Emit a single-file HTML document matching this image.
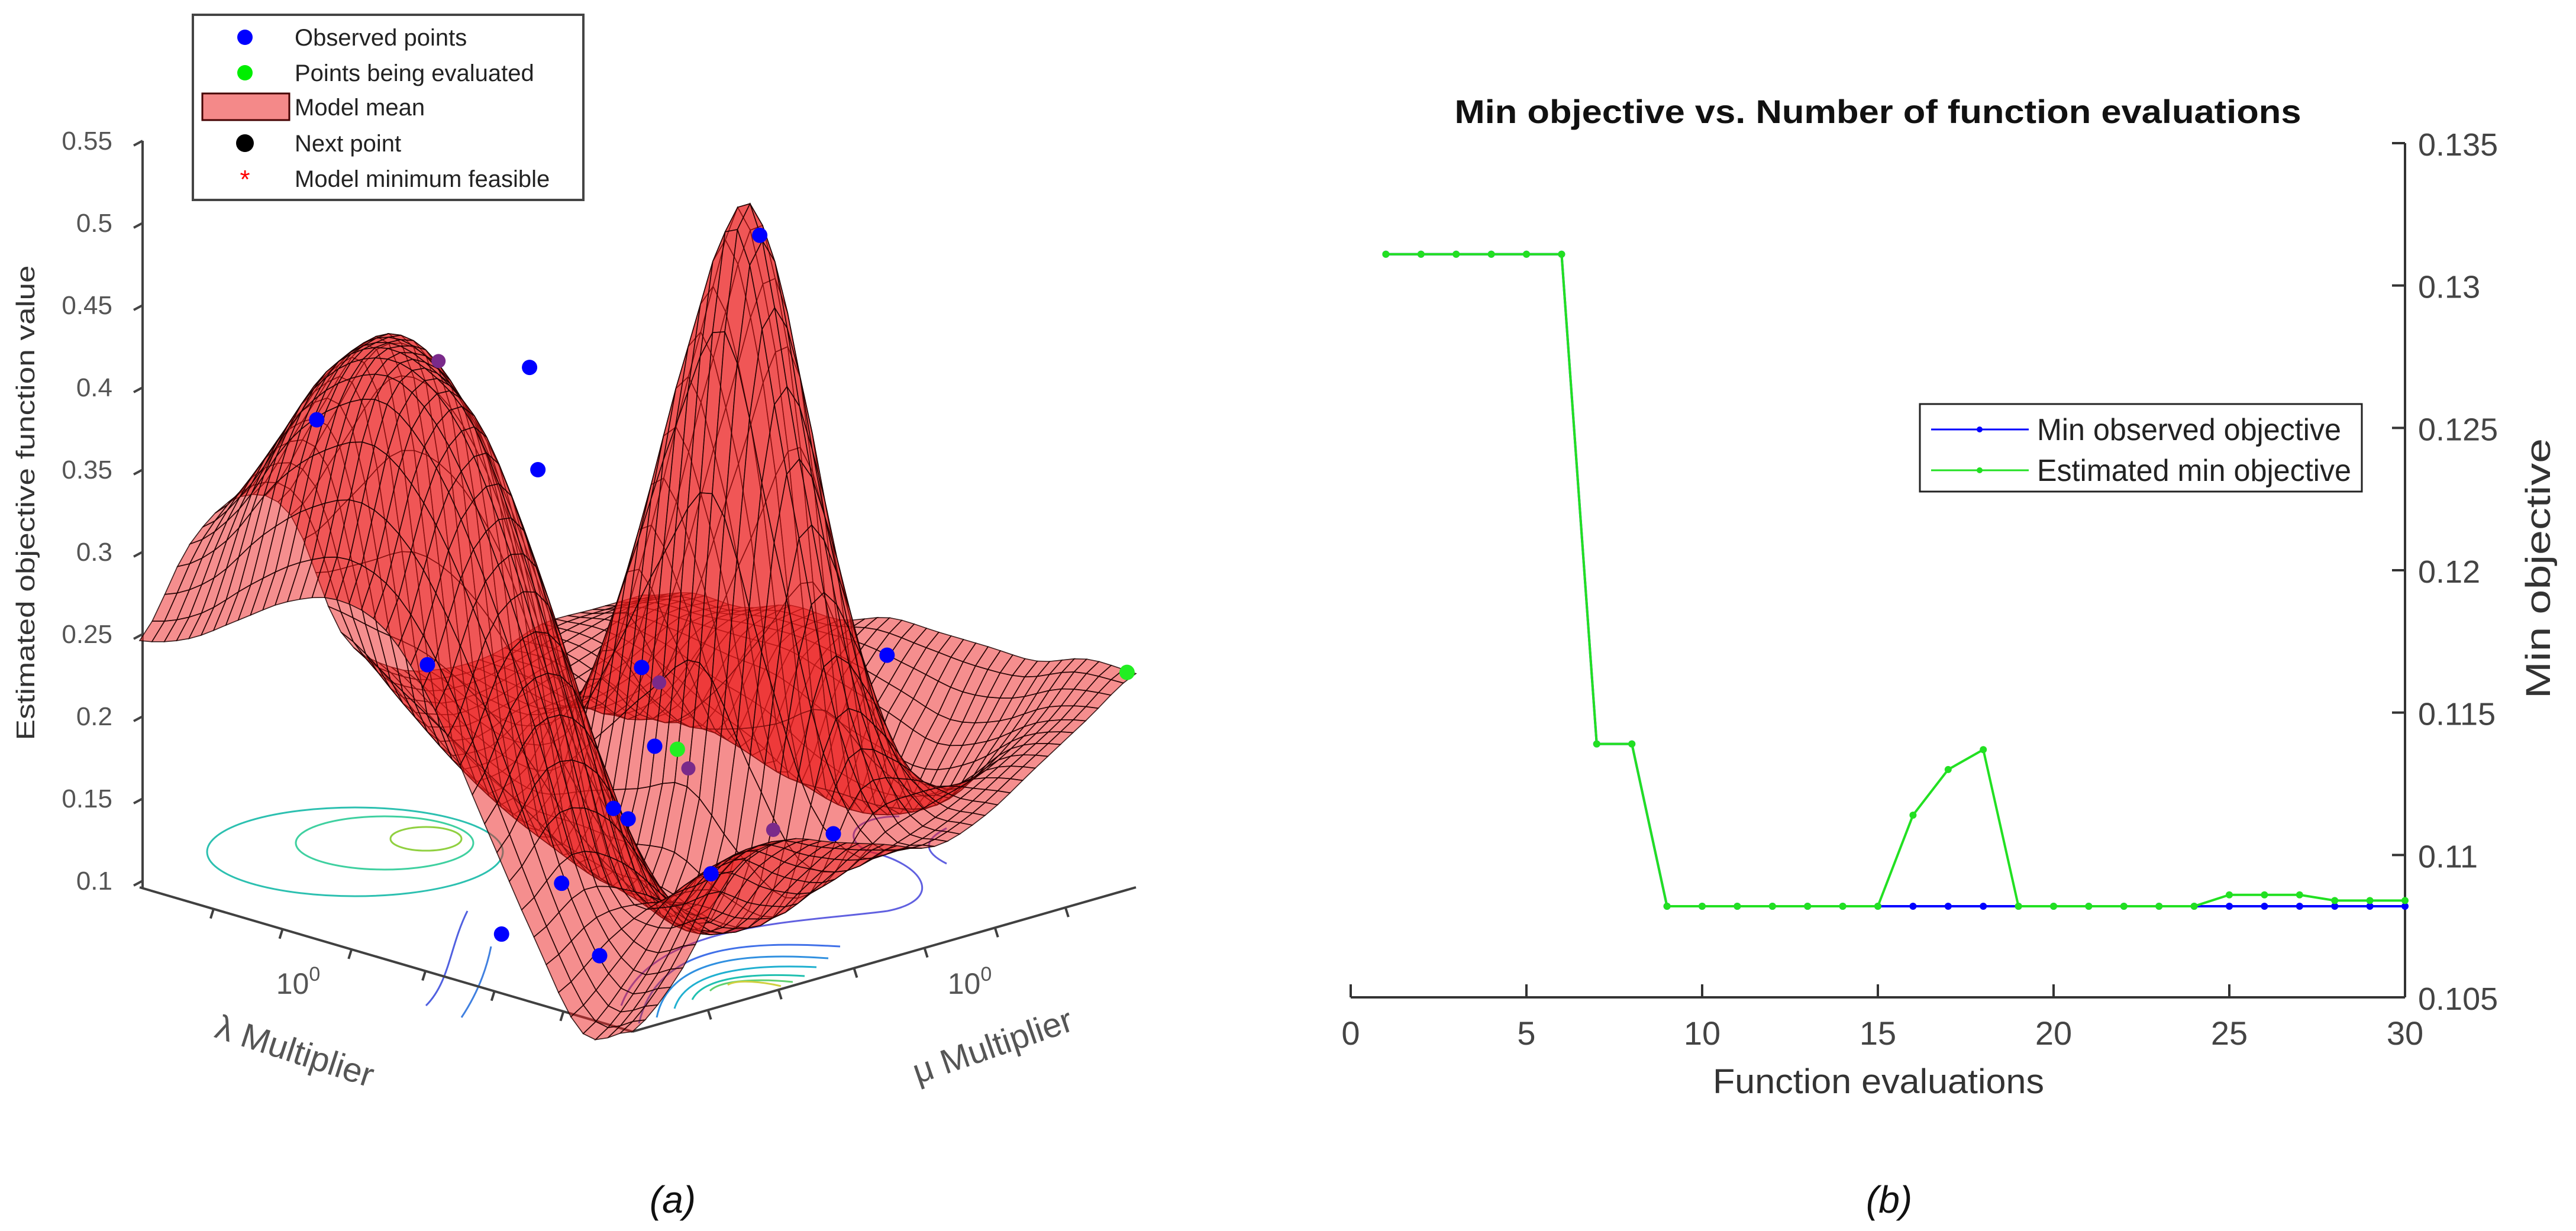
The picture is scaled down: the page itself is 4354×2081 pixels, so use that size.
<!DOCTYPE html>
<html><head><meta charset="utf-8"><style>
html,body{margin:0;padding:0;background:#fff;}
svg{display:block;font-family:"Liberation Sans",sans-serif;}
</style></head><body>
<svg id="fig" width="4354" height="2081" viewBox="0 0 4354 2081" xmlns="http://www.w3.org/2000/svg">
<g id="left">
  <g id="contours" fill="none" stroke-width="3">
    <ellipse cx="600" cy="1440" rx="250" ry="75" stroke="#2cc0b0"/>
    <ellipse cx="650" cy="1425" rx="150" ry="45" stroke="#3fd0a0"/>
    <ellipse cx="720" cy="1418" rx="60" ry="20" stroke="#90d040"/>
    <path d="M790 1540 C760 1600 760 1660 720 1700" stroke="#5060e0"/>
    <path d="M830 1600 C820 1650 800 1690 780 1720" stroke="#4080e0"/>
    <path d="M1050 1700 C1100 1560 1350 1560 1500 1540 C1600 1520 1560 1460 1470 1440 C1420 1420 1440 1380 1520 1380" stroke="#6060e0"/>
    <path d="M1600 1460 C1560 1440 1560 1420 1600 1400" stroke="#6060e0"/>
    <path d="M1080 1730 C1110 1600 1250 1590 1420 1600" stroke="#4070e8"/>
    <path d="M1110 1720 C1130 1620 1260 1610 1400 1620" stroke="#3090e0"/>
    <path d="M1140 1705 C1160 1640 1270 1630 1380 1635" stroke="#20b0d0"/>
    <path d="M1170 1690 C1190 1650 1280 1645 1360 1650" stroke="#20c0b0"/>
    <path d="M1200 1675 C1220 1655 1290 1655 1340 1660" stroke="#60d070"/>
    <path d="M1230 1665 C1245 1655 1290 1660 1320 1667" stroke="#d0d040"/>
  </g>
  <g id="base-axes" stroke="#404040" stroke-width="4">
    <line x1="236" y1="1500" x2="1069" y2="1744"/>
    <line x1="1069" y1="1744" x2="1920" y2="1500"/>
    <line x1="241" y1="238" x2="241" y2="1500"/>
  </g>
  <g id="base-ticks" stroke="#404040" stroke-width="4"></g>
  <g id="zticks"></g>
  <g id="surface"></g>
  <g id="points"></g>
  <text x="504" y="1680" font-size="50" fill="#555" text-anchor="middle">10<tspan dy="-22" font-size="34">0</tspan></text>
  <text x="1639" y="1680" font-size="50" fill="#555" text-anchor="middle">10<tspan dy="-22" font-size="34">0</tspan></text>
  <text transform="translate(497,1781) rotate(18)" font-size="58" fill="#555" text-anchor="middle" dominant-baseline="middle">λ Multiplier</text>
  <text transform="translate(1679,1772) rotate(-19)" font-size="58" fill="#555" text-anchor="middle" dominant-baseline="middle">μ Multiplier</text>
  <text transform="translate(58,850) rotate(-90)" font-size="44" fill="#333" text-anchor="middle" textLength="803" lengthAdjust="spacingAndGlyphs">Estimated objective function value</text>
  <g id="legend-left">
    <rect x="326" y="25" width="660" height="313" fill="#fff" stroke="#444" stroke-width="4"/>
    <circle cx="414" cy="63" r="13" fill="#0000ff"/>
    <text x="498" y="77" font-size="40" fill="#222">Observed points</text>
    <circle cx="414" cy="123" r="13" fill="#00ee00"/>
    <text x="498" y="137" font-size="40" fill="#222">Points being evaluated</text>
    <rect x="342" y="158" width="147" height="45" fill="#f48989" stroke="#400" stroke-width="3"/>
    <text x="498" y="195" font-size="40" fill="#222">Model mean</text>
    <circle cx="414" cy="242" r="15" fill="#000"/>
    <text x="498" y="256" font-size="40" fill="#222">Next point</text>
    <text x="414" y="318" font-size="44" fill="#ff0000" text-anchor="middle">*</text>
    <text x="498" y="316" font-size="40" fill="#222">Model minimum feasible</text>
  </g>
</g>
<g id="right">
  <text x="3174" y="208" font-size="56" font-weight="bold" fill="#111" text-anchor="middle" textLength="1431" lengthAdjust="spacingAndGlyphs">Min objective vs. Number of function evaluations</text>
  <g id="raxes"></g>
  <g id="rlines"></g>
  <text x="3175" y="1848" font-size="58" fill="#333" text-anchor="middle" textLength="560" lengthAdjust="spacingAndGlyphs">Function evaluations</text>
  <text transform="translate(4310,961) rotate(-90)" font-size="58" fill="#333" text-anchor="middle" textLength="440" lengthAdjust="spacingAndGlyphs">Min objective</text>
  <g id="legend-right">
    <rect x="3245" y="683" width="747" height="148" fill="#fff" stroke="#222" stroke-width="3"/>
    <line x1="3264" y1="726" x2="3429" y2="726" stroke="#0000ff" stroke-width="3"/>
    <circle cx="3346" cy="726" r="5" fill="#0000ff"/>
    <text x="3443" y="744" font-size="52" fill="#222" textLength="514" lengthAdjust="spacingAndGlyphs">Min observed objective</text>
    <line x1="3264" y1="795" x2="3429" y2="795" stroke="#22e022" stroke-width="3"/>
    <circle cx="3346" cy="795" r="5" fill="#22e022"/>
    <text x="3443" y="813" font-size="52" fill="#222" textLength="531" lengthAdjust="spacingAndGlyphs">Estimated min objective</text>
  </g>
</g>
<text x="1137" y="2050" font-size="64" font-style="italic" fill="#111" text-anchor="middle">(a)</text>
<text x="3193" y="2050" font-size="64" font-style="italic" fill="#111" text-anchor="middle">(b)</text>
</svg>
<script>
// ---------- Right chart data ----------
const evals = [1,2,3,4,5,6,7,8,9,10,11,12,13,14,15,16,17,18,19,20,21,22,23,24,25,26,27,28,29,30];
const minObserved = [0.1311,0.1311,0.1311,0.1311,0.1311,0.1311,0.1139,0.1139,0.1082,0.1082,0.1082,0.1082,0.1082,0.1082,0.1082,0.1082,0.1082,0.1082,0.1082,0.1082,0.1082,0.1082,0.1082,0.1082,0.1082,0.1082,0.1082,0.1082,0.1082,0.1082];
const estimatedMin = [0.1311,0.1311,0.1311,0.1311,0.1311,0.1311,0.1139,0.1139,0.1082,0.1082,0.1082,0.1082,0.1082,0.1082,0.1082,0.1114,0.1130,0.1137,0.1082,0.1082,0.1082,0.1082,0.1082,0.1082,0.1086,0.1086,0.1086,0.1084,0.1084,0.1084];
const xTicks = [0,5,10,15,20,25,30];
const yTicks = [0.105,0.11,0.115,0.12,0.125,0.13,0.135];
const yTickLabels = ["0.105","0.11","0.115","0.12","0.125","0.13","0.135"];

// ---------- Left chart data ----------
const zTicks = [0.1,0.15,0.2,0.25,0.3,0.35,0.4,0.45,0.5,0.55];
const zTickLabels = ["0.1","0.15","0.2","0.25","0.3","0.35","0.4","0.45","0.5","0.55"];
// model mean grid: rows = lambda position (0 front .. 1 back), cols = mu position (0 .. 1)
const modelMean = [
 [0.10,0.13,0.18,0.19,0.18,0.17,0.16,0.17,0.19,0.21,0.23],
 [0.09,0.12,0.16,0.17,0.15,0.14,0.16,0.17,0.18,0.20,0.23],
 [0.14,0.16,0.15,0.13,0.11,0.12,0.22,0.20,0.15,0.18,0.22],
 [0.20,0.25,0.24,0.16,0.10,0.14,0.36,0.30,0.14,0.17,0.22],
 [0.26,0.33,0.33,0.21,0.11,0.17,0.50,0.42,0.14,0.18,0.22],
 [0.30,0.39,0.40,0.28,0.12,0.16,0.42,0.34,0.14,0.19,0.22],
 [0.31,0.42,0.43,0.36,0.14,0.15,0.30,0.24,0.15,0.20,0.21],
 [0.30,0.41,0.44,0.40,0.16,0.14,0.20,0.17,0.16,0.20,0.21],
 [0.28,0.38,0.42,0.40,0.18,0.15,0.17,0.17,0.18,0.20,0.20],
 [0.26,0.33,0.37,0.35,0.20,0.17,0.17,0.18,0.19,0.20,0.20],
 [0.25,0.30,0.32,0.30,0.22,0.19,0.18,0.18,0.19,0.19,0.19]];
const obsLam = [0.847,0.644,0.623,0.415,0.742,0.575,0.574,0.628,0.634,0.533,0.473,0.414,0.474,0.376,0.314];
const obsMu  = [0.202,0.426,0.422,0.659,0.319,0.581,0.606,0.577,0.612,0.381,0.203,0.340,0.620,0.767,0.813];
const obsZ   = [0.38,0.41,0.35,0.49,0.23,0.22,0.17,0.13,0.12,0.11,0.10,0.08,0.10,0.12,0.23];
const evalLam = [0.483,0.013];
const evalMu  = [0.562,0.995];
const evalZ   = [0.18,0.23];
const hiddenLam = [0.62,0.52,0.45,0.70];
const hiddenMu  = [0.66,0.62,0.72,0.30];
const hiddenZ   = [0.20,0.16,0.12,0.42];

const NS='http://www.w3.org/2000/svg';
function mk(tag, attrs, parent){const e=document.createElementNS(NS,tag);for(const k in attrs)e.setAttribute(k,attrs[k]);parent.appendChild(e);return e;}

// ---- right chart ----
const X0=2283, X1=4065, Y0=1686, Y1=242;
const xs = v => X0 + (v-0)/(30-0)*(X1-X0);
const ys = v => Y0 - (v-0.105)/(0.135-0.105)*(Y0-Y1);
const raxes=document.getElementById('raxes');
let e;
e=mk('line',{x1:X0,y1:Y0,x2:X1,y2:Y0,stroke:'#333','stroke-width':4},raxes);


e=mk('line',{x1:X1,y1:Y0,x2:X1,y2:Y1,stroke:'#333','stroke-width':4},raxes);


xTicks.forEach(t=>{
  mk('line',{x1:xs(t),y1:Y0,x2:xs(t),y2:Y0-22,stroke:'#333','stroke-width':4},raxes);
  e=mk('text',{x:xs(t),y:1766,'font-size':56,fill:'#444','text-anchor':'middle'},raxes);
  e.textContent=t;
  
  
});
yTicks.forEach((t,i)=>{
  mk('line',{x1:X1,y1:ys(t),x2:X1-22,y2:ys(t),stroke:'#333','stroke-width':4},raxes);
  e=mk('text',{x:4087,y:ys(t)+21,'font-size':54,fill:'#444'},raxes);
  e.textContent=yTickLabels[i];
  
  
});
const rl=document.getElementById('rlines');
function series(vals,color,name){
  const d=vals.map((v,i)=>(i?'L':'M')+xs(evals[i])+' '+ys(v)).join(' ');
  const p=mk('path',{d:d,fill:'none',stroke:color,'stroke-width':4},rl);
  
  
  vals.forEach((v,i)=>{
    const c=mk('circle',{cx:xs(evals[i]),cy:ys(v),r:6,fill:color},rl);
    
    
  });
}
series(minObserved,'#0000ff','min-observed');
series(estimatedMin,'#22e022','estimated-min');

// ---- left chart ----
const Bx=1069,By=1744, PXZ=2780;
function proj(s,t,z){return [Bx-833*s+851*t, By-244*s-244*t-(z-0.1)*PXZ];}
const zs = z => 1489 - (z-0.1)*PXZ;
const zt=document.getElementById('zticks');
zTicks.forEach((t,i)=>{
  mk('line',{x1:241,y1:zs(t),x2:226,y2:zs(t)+8,stroke:'#444','stroke-width':4},zt);
  e=mk('text',{x:190,y:zs(t)+15,'font-size':44,fill:'#555','text-anchor':'end'},zt);
  e.textContent=zTickLabels[i];
  
  
});
const bt=document.getElementById('base-ticks');
[0.15,0.29,0.43,0.58,0.72,0.86].forEach(f=>{
  const x=236+(Bx-236)*f, y=1500+(By-1500)*f;
  mk('line',{x1:x,y1:y,x2:x-5,y2:y+16},bt);
});
[0.15,0.29,0.44,0.58,0.72,0.86].forEach(f=>{
  const x=Bx+(1920-Bx)*f, y=By+(1500-By)*f;
  mk('line',{x1:x,y1:y,x2:x+5,y2:y+16},bt);
});
function cr(p0,p1,p2,p3,u){return 0.5*((2*p1)+(-p0+p2)*u+(2*p0-5*p1+4*p2-p3)*u*u+(-p0+3*p1-3*p2+p3)*u*u*u);}
const N=modelMean.length-1;
function g(i,j){i=Math.max(0,Math.min(N,i));j=Math.max(0,Math.min(N,j));return modelMean[i][j];}
function zAt(a,b){
  const i=Math.min(N-1,Math.floor(a)), j=Math.min(N-1,Math.floor(b));
  const u=a-i, v=b-j; const rows=[];
  for(let k=-1;k<=2;k++){rows.push(cr(g(i+k,j-1),g(i+k,j),g(i+k,j+1),g(i+k,j+2),v));}
  return cr(rows[0],rows[1],rows[2],rows[3],u);
}
const SUB=4, M=N*SUB;
const P=[];
for(let a=0;a<=M;a++){P[a]=[];for(let b=0;b<=M;b++){const s=a/M,t=b/M;P[a][b]=proj(s,t,zAt(a/SUB,b/SUB));}}
const quads=[];
for(let a=0;a<M;a++)for(let b=0;b<M;b++)quads.push([a,b,a+b]);
quads.sort((q,r)=>r[2]-q[2]);
const surf=document.getElementById('surface');
const frag=document.createDocumentFragment();
quads.forEach(q=>{
  const [a,b]=q; const pts=[P[a][b],P[a+1][b],P[a+1][b+1],P[a][b+1]];
  const p=document.createElementNS(NS,'polygon');
  p.setAttribute('points',pts.map(p=>p[0].toFixed(1)+','+p[1].toFixed(1)).join(' '));
  p.setAttribute('fill','rgb(235,30,30)');
  p.setAttribute('fill-opacity','0.5');
  p.setAttribute('stroke','#1a0000');
  p.setAttribute('stroke-width','1.6');
  p.setAttribute('stroke-opacity','0.85');
  frag.appendChild(p);
});
surf.appendChild(frag);
const pg=document.getElementById('points');
function dots(L,U,Z,color,name,r){
  L.forEach((l,i)=>{const q=proj(l,U[i],Z[i]);
    const c=mk('circle',{cx:q[0],cy:q[1],r:r,fill:color},pg);
    
    });
}
dots(hiddenLam,hiddenMu,hiddenZ,'#7a2a8a','hidden-observed-point',12);
dots(obsLam,obsMu,obsZ,'#0000ff','observed-point',13);
dots(evalLam,evalMu,evalZ,'#22ee22','evaluated-point',13);
</script>
</body></html>
